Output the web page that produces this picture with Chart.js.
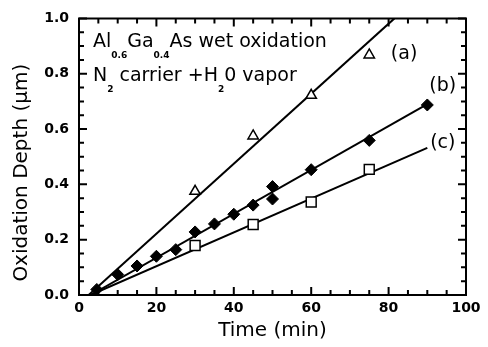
<!DOCTYPE html>
<html>
<head>
<meta charset="utf-8">
<script src="https://cdn.jsdelivr.net/npm/chart.js@4/dist/chart.umd.min.js"></script>
<style>
  html, body { margin: 0; padding: 0; background: #fff; }
  #wrap { width: 488px; height: 347px; }
</style>
</head>
<body>
<div id="wrap"><canvas id="oxChart"></canvas></div>
<script>
// measured points (time in min, depth in um)
const timeA = [30, 45, 60, 75];
const depthA = [0.375, 0.575, 0.722, 0.868];

const timeB = [4.6, 10, 15, 20, 25, 30, 35, 40, 45, 50, 50, 60, 75, 90];
const depthB = [0.02, 0.074, 0.105, 0.14, 0.164, 0.228, 0.257, 0.292, 0.325, 0.392, 0.347, 0.453, 0.559, 0.687];

const timeC = [30, 45, 60, 75];
const depthC = [0.179, 0.255, 0.336, 0.454];

// fitted straight lines (start / end)
const fitTimeA = [2.5, 81.5];
const fitDepthA = [0, 1.0];
const fitTimeB = [3, 90];
const fitDepthB = [0, 0.69];
const fitTimeC = [3, 90];
const fitDepthC = [0, 0.532];

// curve labels
const curveLabels = ['(a)', '(b)', '(c)'];
const labelTime = [84, 94, 94];
const labelDepth = [0.87, 0.755, 0.55];

const xTicks = [0, 20, 40, 60, 80, 100];
const yTicks = [0.0, 0.2, 0.4, 0.6, 0.8, 1.0];
const xMinorStep = 5;
const yMinorStep = 0.05;

function pts(xs, ys) {
  return xs.map((x, i) => ({x: x, y: ys[i]}));
}

const FONT = '"DejaVu Sans", Verdana, sans-serif';

// frame + inward ticks + text
const decorations = {
  id: 'decorations',
  afterDraw(chart) {
    const c = chart.ctx;
    const xs = chart.scales.x, ys = chart.scales.y;
    const a = chart.chartArea;
    c.save();
    c.strokeStyle = '#000000';
    c.lineWidth = 2;
    c.beginPath();
    c.rect(a.left, a.top, a.right - a.left, a.bottom - a.top);
    c.stroke();

    c.lineWidth = 2;
    c.beginPath();
    for (let k = 0; k <= 20; k++) {
      const px = xs.getPixelForValue(k * xMinorStep);
      const len = k % 4 === 0 ? 8 : 5;
      c.moveTo(px, a.bottom); c.lineTo(px, a.bottom - len);
      c.moveTo(px, a.top); c.lineTo(px, a.top + len);
    }
    c.stroke();
    c.beginPath();
    for (let k = 0; k <= 20; k++) {
      const py = ys.getPixelForValue(k * yMinorStep);
      const len = k % 4 === 0 ? 8 : 5;
      c.moveTo(a.left, py); c.lineTo(a.left + len, py);
      c.moveTo(a.right, py); c.lineTo(a.right - len, py);
    }
    c.stroke();

    c.fillStyle = '#000';
    // curve labels
    c.font = '19px ' + FONT;
    c.textAlign = 'center';
    c.textBaseline = 'middle';
    curveLabels.forEach((t, i) => {
      c.fillText(t, xs.getPixelForValue(labelTime[i]), ys.getPixelForValue(labelDepth[i]));
    });

    // y axis title, sits a bit below the plot centre in the original
    c.save();
    c.translate(22, (a.top + a.bottom) / 2 + 16);
    c.rotate(-Math.PI / 2);
    c.font = '20px ' + FONT;
    c.fillText('Oxidation Depth (µm)', 0, 0);
    c.restore();

    // title text with subscripts
    c.textAlign = 'left';
    c.textBaseline = 'alphabetic';
    const big = '19px ' + FONT, small = 'bold 9px ' + FONT;
    function run(parts, x, y) {
      parts.forEach(p => {
        c.font = p[1] ? small : big;
        c.fillText(p[0], x, p[1] ? y + 11 : y);
        x += c.measureText(p[0]).width;
      });
    }
    const x0 = a.left + 14;
    run([['Al', 0], ['0.6', 1], ['Ga', 0], ['0.4', 1], ['As wet oxidation', 0]], x0, a.top + 29);
    run([['N', 0], ['2', 1], [' carrier +H', 0], ['2', 1], ['0 vapor', 0]], x0, a.top + 63);
    c.restore();
  }
};

const ctx = document.getElementById('oxChart').getContext('2d');
const chart = new Chart(ctx, {
  type: 'scatter',
  data: {
    datasets: [
      {
        label: 'a',
        data: pts(timeA, depthA),
        pointStyle: 'triangle',
        pointRadius: 6,
        backgroundColor: '#fff',
        borderColor: '#000',
        borderWidth: 1.5
      },
      {
        label: 'b',
        data: pts(timeB, depthB),
        pointStyle: 'rectRot',
        pointRadius: 6,
        backgroundColor: '#000',
        borderColor: '#000',
        borderWidth: 1
      },
      {
        label: 'c',
        data: pts(timeC, depthC),
        pointStyle: 'rect',
        pointRadius: 7,
        backgroundColor: '#fff',
        borderColor: '#000',
        borderWidth: 1.5
      },
      {
        label: 'fit a',
        data: pts(fitTimeA, fitDepthA),
        showLine: true, pointRadius: 0, borderColor: '#000', borderWidth: 2
      },
      {
        label: 'fit b',
        data: pts(fitTimeB, fitDepthB),
        showLine: true, pointRadius: 0, borderColor: '#000', borderWidth: 2
      },
      {
        label: 'fit c',
        data: pts(fitTimeC, fitDepthC),
        showLine: true, pointRadius: 0, borderColor: '#000', borderWidth: 2
      }
    ]
  },
  options: {
    responsive: true,
    maintainAspectRatio: false,
    animation: false,
    layout: { padding: { top: 10, right: 22, left: 0, bottom: 0 } },
    plugins: { legend: { display: false }, tooltip: { enabled: false } },
    scales: {
      x: {
        type: 'linear', min: 0, max: 100,
        afterBuildTicks: s => { s.ticks = xTicks.map(v => ({value: v})); },
        afterFit: s => { s.height = 52; },
        grid: { display: false, drawTicks: false },
        border: { display: false },
        ticks: { color: '#000', padding: 5, maxRotation: 0, font: { family: FONT, size: 14, weight: 'bold' } },
        title: { display: true, text: 'Time (min)', color: '#000', padding: { top: 0 }, font: { family: FONT, size: 20 } }
      },
      y: {
        type: 'linear', min: 0, max: 1.0,
        afterBuildTicks: s => { s.ticks = yTicks.map(v => ({value: v})); },
        afterFit: s => { s.width = 79; },
        grid: { display: false, drawTicks: false },
        border: { display: false },
        ticks: { color: '#000', padding: 10, font: { family: FONT, size: 14, weight: 'bold' }, callback: v => v.toFixed(1) },
        title: { display: false }
      }
    }
  },
  plugins: [decorations]
});
</script>
</body>
</html>
